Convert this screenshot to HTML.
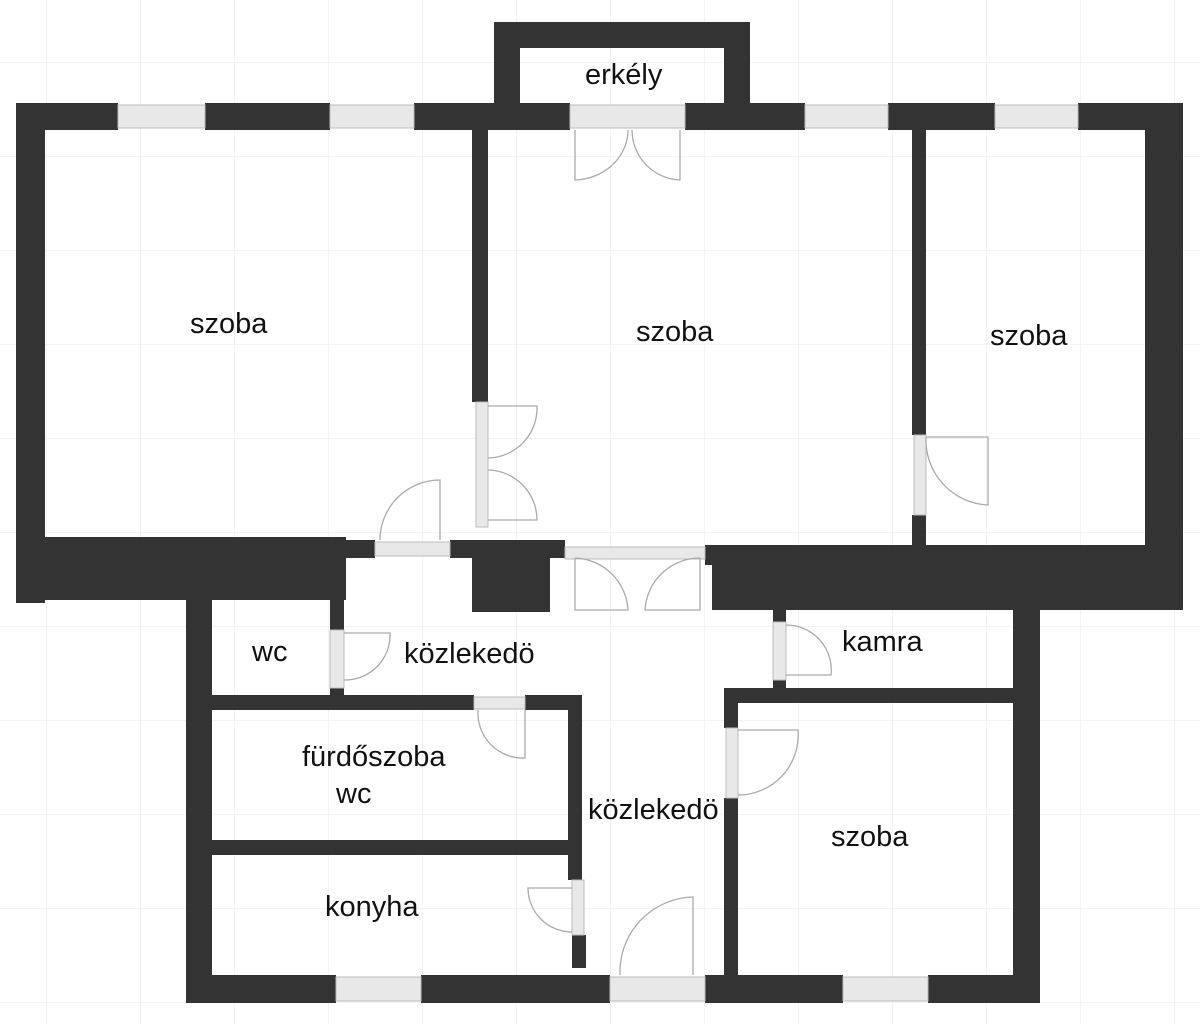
<!DOCTYPE html>
<html><head><meta charset="utf-8"><style>
html,body{margin:0;padding:0;background:#fff;}
svg{display:block}
text{font-family:"Liberation Sans","DejaVu Sans",sans-serif;font-size:29px;fill:#111;}
</style></head><body>
<svg width="1200" height="1024" viewBox="0 0 1200 1024" xmlns="http://www.w3.org/2000/svg">
<defs>
<pattern id="g" x="46" y="62" width="94" height="94" patternUnits="userSpaceOnUse">
<path d="M0 0H94M0 0V94" stroke="#f3f3f3" stroke-width="2" fill="none"/>
</pattern>
</defs>
<rect width="1200" height="1024" fill="url(#g)"/>
<g fill="#333">
<rect x="494" y="22" width="256" height="26"/>
<rect x="494" y="22" width="26" height="85"/>
<rect x="724" y="22" width="26" height="85"/>
<rect x="16" y="103" width="102" height="27"/>
<rect x="205" y="103" width="125" height="27"/>
<rect x="414" y="103" width="156" height="27"/>
<rect x="685" y="103" width="120" height="27"/>
<rect x="888" y="103" width="107" height="27"/>
<rect x="1078" y="103" width="105" height="27"/>
<rect x="16" y="103" width="29" height="500"/>
<rect x="1145" y="103" width="38" height="507"/>
<rect x="16" y="537" width="330" height="63"/>
<rect x="345" y="540" width="30" height="18"/>
<rect x="450" y="540" width="115" height="18"/>
<rect x="472" y="540" width="78" height="72"/>
<rect x="705" y="545" width="478" height="20"/>
<rect x="712" y="545" width="471" height="65"/>
<rect x="472" y="130" width="16" height="272"/>
<rect x="912" y="130" width="14" height="305"/>
<rect x="912" y="515" width="14" height="32"/>
<rect x="186" y="600" width="26" height="403"/>
<rect x="1013" y="600" width="27" height="403"/>
<rect x="186" y="975" width="150" height="28"/>
<rect x="421" y="975" width="189" height="28"/>
<rect x="705" y="975" width="138" height="28"/>
<rect x="928" y="975" width="112" height="28"/>
<rect x="330" y="600" width="14" height="30"/>
<rect x="330" y="688" width="14" height="10"/>
<rect x="212" y="695" width="262" height="15"/>
<rect x="525" y="695" width="55" height="15"/>
<rect x="568" y="695" width="14" height="185"/>
<rect x="572" y="935" width="14" height="33"/>
<rect x="212" y="840" width="363" height="15"/>
<rect x="773" y="610" width="13" height="12"/>
<rect x="773" y="680" width="13" height="12"/>
<rect x="724" y="688" width="289" height="15"/>
<rect x="724" y="688" width="14" height="40"/>
<rect x="724" y="798" width="14" height="180"/>
</g>
<g fill="#e8e8e8" stroke="#bbb" stroke-width="1">
<rect x="118" y="105" width="87" height="23"/>
<rect x="330" y="105" width="84" height="23"/>
<rect x="570" y="105" width="115" height="23"/>
<rect x="805" y="105" width="83" height="23"/>
<rect x="995" y="105" width="83" height="23"/>
<rect x="375" y="542" width="75" height="14"/>
<rect x="565" y="547" width="140" height="12"/>
<rect x="476" y="402" width="12" height="125"/>
<rect x="914" y="435" width="12" height="80"/>
<rect x="330" y="630" width="14" height="58"/>
<rect x="474" y="697" width="51" height="12"/>
<rect x="572" y="880" width="12" height="55"/>
<rect x="773" y="622" width="13" height="58"/>
<rect x="726" y="728" width="12" height="70"/>
<rect x="336" y="977" width="85" height="24"/>
<rect x="610" y="977" width="95" height="24"/>
<rect x="843" y="977" width="85" height="24"/>
</g>
<g fill="none" stroke="#aaa" stroke-width="1.3">
<path d="M575 130V180A55 50 0 0 0 628 130"/>
<path d="M680 130V180A50 50 0 0 1 632 130"/>
<path d="M488 406H537A50 50 0 0 1 488 458"/>
<path d="M488 470A50 50 0 0 1 537 520H488"/>
<path d="M440 540V480A60 60 0 0 0 380 540"/>
<path d="M926 437H988V505A65 65 0 0 1 926 437"/>
<path d="M344 633H390A45 45 0 0 1 344 680"/>
<path d="M525 710V758A45 45 0 0 1 478 710"/>
<path d="M738 730H798A60 60 0 0 1 738 795"/>
<path d="M786 625A45 45 0 0 1 831 675H786"/>
<path d="M572 888H528A44 44 0 0 0 572 932"/>
<path d="M693 975V897A75 75 0 0 0 620 975"/>
<path d="M575 558V610H628A55 55 0 0 0 575 558"/>
<path d="M700 558V610H645A55 55 0 0 1 700 558"/>
</g>
<text x="585" y="84">erkély</text>
<text x="190" y="333">szoba</text>
<text x="636" y="341">szoba</text>
<text x="990" y="345">szoba</text>
<text x="252" y="661">wc</text>
<text x="404" y="663">közlekedö</text>
<text x="842" y="651">kamra</text>
<text x="302" y="766">fürdőszoba</text>
<text x="336" y="803">wc</text>
<text x="588" y="819">közlekedö</text>
<text x="831" y="846">szoba</text>
<text x="325" y="916">konyha</text>
</svg>
</body></html>
